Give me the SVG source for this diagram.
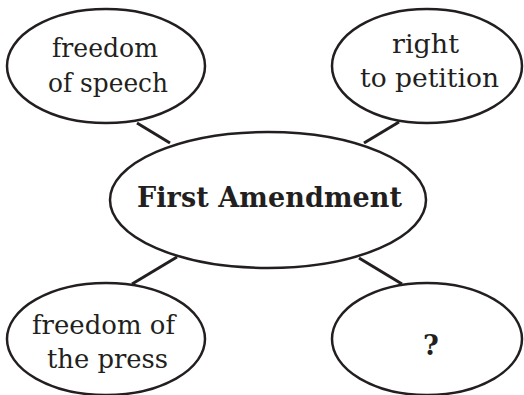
<svg xmlns="http://www.w3.org/2000/svg" width="524" height="395" viewBox="0 0 524 395">
<style>
.n{fill:#fff;stroke:#231f20;stroke-width:2.5}
.c{stroke:#231f20;stroke-width:3;fill:none}
.t{font-family:"DejaVu Serif","Liberation Serif",serif;font-size:26px;fill:#231f20;text-anchor:middle}
.b{font-weight:bold;font-size:27px}
</style>
<rect width="524" height="395" fill="#fff"/>
<g id="connectors">
<line class="c" x1="137" y1="123" x2="170" y2="143"/>
<line class="c" x1="399" y1="122" x2="364" y2="143"/>
<line class="c" x1="177" y1="257" x2="132" y2="284"/>
<line class="c" x1="359" y1="258" x2="402" y2="284"/>
</g>
<g id="center">
<ellipse class="n" cx="268" cy="200" rx="158" ry="68"/>
<text class="t b" x="269.5" y="207" textLength="265" lengthAdjust="spacing">First Amendment</text>
</g>
<g id="speech">
<ellipse class="n" cx="106" cy="66" rx="99" ry="57"/>
<text class="t" x="105" y="57" textLength="106" lengthAdjust="spacingAndGlyphs">freedom</text>
<text class="t" x="108" y="92" textLength="120" lengthAdjust="spacingAndGlyphs">of speech</text>
</g>
<g id="petition">
<ellipse class="n" cx="427" cy="66" rx="95" ry="57"/>
<text class="t" x="425.5" y="53" textLength="67" lengthAdjust="spacingAndGlyphs">right</text>
<text class="t" x="429.5" y="87" textLength="139" lengthAdjust="spacingAndGlyphs">to petition</text>
</g>
<g id="press">
<ellipse class="n" cx="106" cy="339" rx="99" ry="56"/>
<text class="t" x="103.5" y="334" textLength="143" lengthAdjust="spacingAndGlyphs">freedom of</text>
<text class="t" x="107.5" y="368" textLength="121" lengthAdjust="spacingAndGlyphs">the press</text>
</g>
<g id="unknown">
<ellipse class="n" cx="427" cy="339" rx="95" ry="56"/>
<text class="t b" x="431" y="355" font-size="25">?</text>
</g>
</svg>
